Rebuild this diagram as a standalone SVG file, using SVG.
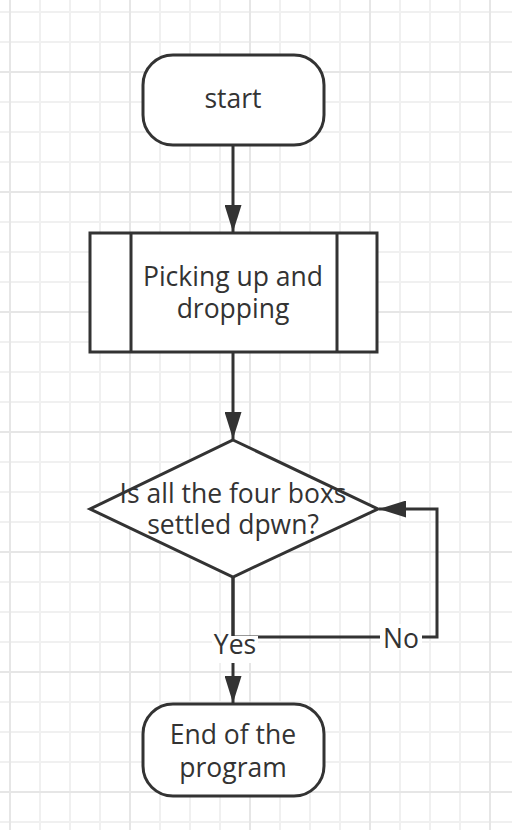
<svg xmlns="http://www.w3.org/2000/svg" width="512" height="830" viewBox="0 0 512 830">
<defs>
<pattern id="minor" x="9" y="11" width="30" height="30" patternUnits="userSpaceOnUse">
<path d="M1 0V30M0 1H30" fill="none" stroke="#f0f0f0" stroke-width="2"/>
</pattern>
<pattern id="major" x="9" y="71" width="120" height="120" patternUnits="userSpaceOnUse">
<path d="M1 0V120M0 1H120" fill="none" stroke="#e6e6e6" stroke-width="2"/>
</pattern>
<marker id="arrow" viewBox="0 0 27 17" refX="27" refY="8.5" markerWidth="27" markerHeight="17" markerUnits="userSpaceOnUse" orient="auto">
<path d="M0 0L27 8.5L0 17Z" fill="#333"/>
</marker>
</defs>
<style>
.shape{fill:#fff;stroke:#333;stroke-width:3}
.line{fill:none;stroke:#333;stroke-width:3}
.t{font-family:"Open Sans","Noto Sans",sans-serif;font-size:26.5px;fill:#333;text-anchor:middle}
</style>
<rect width="512" height="830" fill="#fff"/>
<rect width="512" height="830" fill="url(#minor)"/>
<rect width="512" height="830" fill="url(#major)"/>
<g id="connectors">
<path class="line" d="M233 145V232" marker-end="url(#arrow)"/>
<path class="line" d="M233 352V439" marker-end="url(#arrow)"/>
<path class="line" d="M233 577V703" marker-end="url(#arrow)"/>
<path class="line" d="M233 577V637H437V509H379" marker-end="url(#arrow)"/>
<rect x="212" y="636" width="46" height="27" fill="#fff"/>
<text class="t" x="235" y="654">Yes</text>
<rect x="380" y="624" width="42" height="26" fill="#fff"/>
<text class="t" x="401" y="648">No</text>
</g>
<g id="start">
<rect class="shape" x="143" y="55" width="181" height="90" rx="30"/>
<text class="t" x="233" y="108">start</text>
</g>
<g id="process">
<rect class="shape" x="90" y="233" width="287" height="119"/>
<path class="line" d="M131 233V352M337 233V352"/>
<text class="t" x="233" y="286">Picking up and</text>
<text class="t" x="233" y="318">dropping</text>
</g>
<g id="decision">
<path class="shape" d="M233 440L378 509L233 577L90 509Z"/>
<text class="t" x="233" y="503">Is all the four boxs</text>
<text class="t" x="233" y="534">settled dpwn?</text>
</g>
<g id="end">
<rect class="shape" x="143" y="704" width="181" height="92" rx="30"/>
<text class="t" x="233" y="744">End of the</text>
<text class="t" x="233" y="777">program</text>
</g>
</svg>
